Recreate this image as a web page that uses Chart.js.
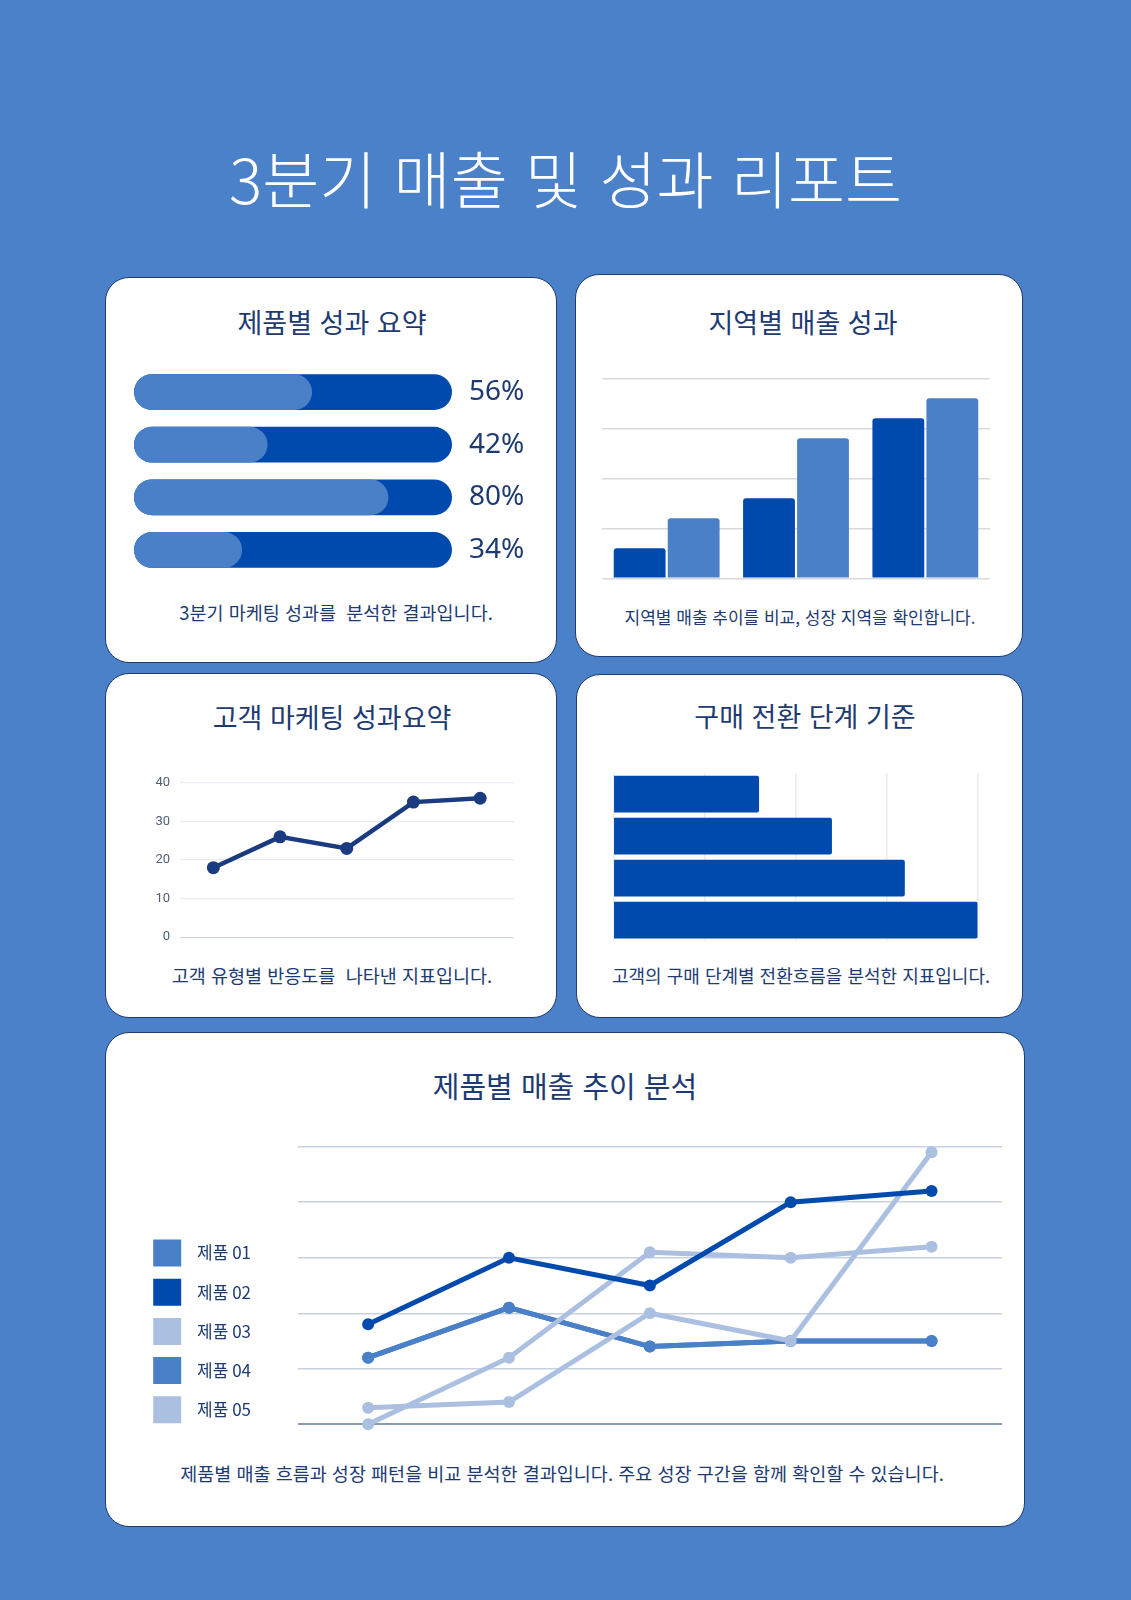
<!DOCTYPE html>
<html lang="ko">
<head>
<meta charset="utf-8">
<script src="https://cdn.jsdelivr.net/npm/chart.js@4.4.1/dist/chart.umd.min.js"></script>
<style>
html,body{margin:0;padding:0;}
body{width:1131px;height:1600px;background:#4a81c9;position:relative;overflow:hidden;font-family:'Noto Sans CJK KR','Noto Sans',sans-serif;}
.panel{position:absolute;box-sizing:border-box;background:#fff;border:1.5px solid #1f3a6b;border-radius:24px;}
.txt{position:absolute;text-align:center;white-space:pre;line-height:1;color:#1d3a72;width:600px;}
canvas{position:absolute;}
</style>
</head>
<body>
<div class="txt" style="left:0;width:1131px;top:146px;font-size:62px;color:#ffffff;font-weight:300;">3분기 매출 및 성과 리포트</div>

<div class="panel" style="left:105px;top:277px;width:452px;height:386px"></div>
<div class="panel" style="left:575px;top:274px;width:448px;height:383px"></div>
<div class="panel" style="left:105px;top:673px;width:452px;height:345px"></div>
<div class="panel" style="left:576px;top:674px;width:447px;height:344px"></div>
<div class="panel" style="left:105px;top:1032px;width:920px;height:495px"></div>

<div class="txt" style="left:32px;top:307.5px;font-size:27px;">제품별 성과 요약</div>
<div class="txt" style="left:503px;top:307.5px;font-size:27px;">지역별 매출 성과</div>
<div class="txt" style="left:32px;top:703px;font-size:27px;">고객 마케팅 성과요약</div>
<div class="txt" style="left:505px;top:701.6px;font-size:27px;">구매 전환 단계 기준</div>
<div class="txt" style="left:265px;top:1070.5px;font-size:29px;">제품별 매출 추이 분석</div>

<div class="txt" style="left:36px;top:603px;font-size:18.5px;">3분기 마케팅 성과를  분석한 결과입니다.</div>
<div class="txt" style="left:500px;top:608px;font-size:17px;">지역별 매출 추이를 비교, 성장 지역을 확인합니다.</div>
<div class="txt" style="left:32px;top:965.5px;font-size:18.5px;">고객 유형별 반응도를  나타낸 지표입니다.</div>
<div class="txt" style="left:501px;top:965.5px;font-size:18px;">고객의 구매 단계별 전환흐름을 분석한 지표입니다.</div>
<div class="txt" style="left:62px;width:1000px;top:1463.9px;font-size:18.5px;">제품별 매출 흐름과 성장 패턴을 비교 분석한 결과입니다. 주요 성장 구간을 함께 확인할 수 있습니다.</div>

<canvas id="c1" width="420" height="278" style="left:134px;top:332px"></canvas>
<canvas id="c2" width="388" height="212" style="left:602px;top:372px"></canvas>
<canvas id="c3" width="380" height="190" style="left:140px;top:765px"></canvas>
<canvas id="c4" width="366" height="168" style="left:613px;top:773px"></canvas>
<canvas id="c5" width="867" height="300" style="left:141px;top:1136px"></canvas>

<script>
// ---- data ----
const progressValues = [56, 42, 80, 34];
const progressMax = [100, 100, 100, 100];

const regionLabels = ['지역 A', '지역 B', '지역 C'];
const regionPrev = [15, 40, 80];
const regionCurr = [30, 70, 90];

const customerLabels = ['유형 1', '유형 2', '유형 3', '유형 4', '유형 5'];
const customerValues = [18, 26, 23, 35, 36];

const funnelLabels = ['단계 1', '단계 2', '단계 3', '단계 4'];
const funnelValues = [40, 60, 80, 100];

const trendLabels = ['1월', '2월', '3월', '4월', '5월'];
const productNames = ['제품 01', '제품 02', '제품 03', '제품 04', '제품 05'];
const product01 = [12, 21, 14, 15, 15];
const product02 = [18, 30, 25, 40, 42];
const product03 = [0, 12, 31, 30, 32];
const product04 = [12, 21, 14, 15, 15];
const product05 = [3, 4, 20, 15, 49];

// ---- styles ----
const NAVY = '#1d3a72';
const DARK = '#004aad';
const MID = '#4a80c8';
const LIGHT = '#abc0e0';
const CJK = "'Noto Sans CJK KR', 'Noto Sans', sans-serif";

Chart.defaults.font.family = CJK;
Chart.defaults.color = NAVY;

const base = {responsive: false, animation: false, events: []};
const noPlugins = {legend: {display: false}, tooltip: {enabled: false}};

// Panel 1: progress bars
new Chart(document.getElementById('c1'), {
  type: 'bar',
  data: {
    labels: progressValues.map(v => v + '%'),
    datasets: [
      {data: progressValues, backgroundColor: MID, borderRadius: 20, borderSkipped: false, grouped: false, barPercentage: 0.68, categoryPercentage: 1},
      {data: progressMax, backgroundColor: DARK, borderRadius: 20, borderSkipped: false, grouped: false, barPercentage: 0.68, categoryPercentage: 1}
    ]
  },
  options: Object.assign({}, base, {
    indexAxis: 'y',
    layout: {padding: 0},
    plugins: noPlugins,
    scales: {
      x: {display: false, min: 0, max: 100},
      y: {position: 'right', grid: {display: false, drawTicks: false}, border: {display: false},
          ticks: {padding: 17, color: NAVY, font: {family: "'Noto Sans', sans-serif", size: 28, lineHeight: 1.2}},
          afterFit: s => { s.width = 102; }}
    }
  })
});

// Panel 2: regional grouped bars
new Chart(document.getElementById('c2'), {
  type: 'bar',
  data: {
    labels: regionLabels,
    datasets: [
      {data: regionPrev, backgroundColor: DARK, borderRadius: 3, barPercentage: 0.96, categoryPercentage: 0.835},
      {data: regionCurr, backgroundColor: MID, borderRadius: 3, barPercentage: 0.96, categoryPercentage: 0.835}
    ]
  },
  options: Object.assign({}, base, {
    layout: {padding: {top: 6.3, bottom: 5.7, left: 0, right: 0}},
    plugins: noPlugins,
    scales: {
      x: {display: false},
      y: {min: 0, max: 100, ticks: {display: false, stepSize: 25}, border: {display: false},
          grid: {color: '#d9d9d9', lineWidth: 1.5, drawTicks: false},
          afterFit: s => { s.width = 0; }}
    }
  })
});

// Panel 3: customer line
new Chart(document.getElementById('c3'), {
  type: 'line',
  data: {
    labels: customerLabels,
    datasets: [{data: customerValues, borderColor: '#1a3b80', backgroundColor: '#1a3b80', borderWidth: 4.5,
      pointRadius: 6.5, pointBackgroundColor: '#1a3b80', pointBorderWidth: 0, tension: 0, clip: false}]
  },
  options: Object.assign({}, base, {
    layout: {padding: 0},
    plugins: noPlugins,
    scales: {
      x: {display: false, offset: true},
      y: {min: 0, max: 40, ticks: {stepSize: 10, padding: 10, color: '#50607a', font: {family: 'Roboto', size: 13, lineHeight: 1.2}},
          border: {display: false},
          grid: {drawTicks: false, lineWidth: 1.2, color: c => (c.tick && c.tick.value === 0) ? '#d0d5de' : '#e8ebf0'},
          afterFit: s => { s.width = 40; }}
    }
  })
});

// Panel 4: funnel horizontal bars
new Chart(document.getElementById('c4'), {
  type: 'bar',
  data: {
    labels: funnelLabels,
    datasets: [{data: funnelValues, backgroundColor: DARK, borderRadius: 2, barPercentage: 0.875, categoryPercentage: 1}]
  },
  options: Object.assign({}, base, {
    indexAxis: 'y',
    layout: {padding: {left: 0.3, right: 1.3, top: 0, bottom: 0}},
    plugins: noPlugins,
    scales: {
      x: {min: 0, max: 100, ticks: {display: false, stepSize: 25}, border: {display: false},
          grid: {color: '#ececec', lineWidth: 1.5, drawTicks: false},
          afterFit: s => { s.height = 0; }},
      y: {display: false}
    }
  })
});

// Panel 5: product trend lines
const LEGEND_W = 110;
const legendWidthPlugin = {
  id: 'legendWidth',
  beforeLayout(chart) {
    const lg = chart.legend;
    if (lg && !lg._fixedW) {
      const orig = lg.fit;
      lg.fit = function() { orig.call(this); this.width = LEGEND_W; };
      lg._fixedW = true;
    }
  }
};
const colors5 = [MID, DARK, LIGHT, MID, LIGHT];
const orders5 = [3, 0, 1, 4, 2];
const series5 = [product01, product02, product03, product04, product05];

new Chart(document.getElementById('c5'), {
  type: 'line',
  data: {
    labels: trendLabels,
    datasets: series5.map((d, i) => ({
      label: productNames[i], data: d, borderColor: colors5[i], backgroundColor: colors5[i],
      borderWidth: 5, pointRadius: 6, pointBackgroundColor: colors5[i], pointBorderWidth: 0,
      tension: 0, clip: false, order: orders5[i]
    }))
  },
  options: Object.assign({}, base, {
    layout: {padding: {top: 10.7, bottom: 0.5, left: 0, right: 0}},
    plugins: {
      tooltip: {enabled: false},
      legend: {
        display: true, position: 'left', align: 'end',
        labels: {
          boxWidth: 28, boxHeight: 27, padding: 12.2, color: NAVY, textAlign: 'right',
          font: {family: CJK, size: 17},
          sort: (a, b) => a.datasetIndex - b.datasetIndex,
          generateLabels: chart => Chart.defaults.plugins.legend.labels.generateLabels(chart)
            .map(l => Object.assign(l, {lineWidth: 0, fillStyle: l.strokeStyle, textAlign: 'right'}))
        }
      }
    },
    scales: {
      x: {offset: true, ticks: {display: false}, grid: {display: false}, border: {display: false},
          afterFit: s => { s.height = 11.2; }},
      y: {min: 0, max: 50, ticks: {display: false, stepSize: 10}, border: {display: false},
          grid: {drawTicks: false, lineWidth: c => (c.tick && c.tick.value === 0) ? 2 : 1.5,
                 color: c => (c.tick && c.tick.value === 0) ? '#8a9ab5' : '#c7d1e2'},
          afterFit: s => { s.width = 46.7; }}
    }
  }),
  plugins: [legendWidthPlugin]
});
</script>
</body>
</html>
